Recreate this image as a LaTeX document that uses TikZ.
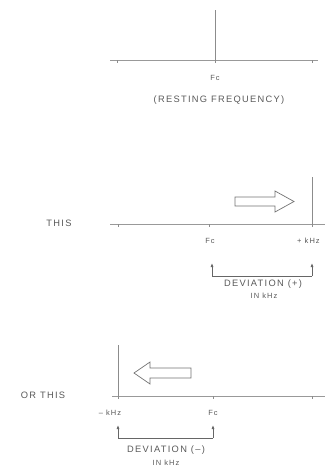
\documentclass[tikz,border=0pt]{standalone}
\usepackage{fontspec}
\usetikzlibrary{arrows.meta}
\setmainfont{Liberation Sans}[LetterSpace=14]
\begin{document}
\begin{tikzpicture}[x=1pt,y=-1pt,
  axis/.style={draw=black!40, line width=0.8pt},
  marker/.style={draw=black!45, line width=0.7pt},
  tick/.style={draw=black!45, line width=0.6pt},
  lbl/.style={text=black!65, font=\fontsize{9.3}{10}\selectfont, inner sep=0pt},
  small/.style={text=black!65, font=\fontsize{7.5}{8}\selectfont, inner sep=0pt},
  hollow/.style={draw=black!55, line width=0.7pt, fill=white, line join=miter},
  brk/.style={draw=black!60, line width=0.7pt},
  brkarrow/.style={brk, -{Latex[length=4pt,width=3pt]}},
]
\useasboundingbox (0,0) rectangle (325,475);

% ---------- panel 1 ----------
\coordinate (a1l) at (110,60);
\coordinate (a1r) at (318,60);
\draw[axis] (a1l) -- (a1r);
\coordinate (t1a) at (117,60);
\coordinate (t1b) at (215,60);
\coordinate (t1c) at (312,60);
\coordinate (v1top) at (215,10);
\draw[marker] (t1b) -- (v1top);
\foreach \c in {t1a,t1b,t1c} \draw[tick] (\c) -- ++(0,3);
\node[small] (fc1) at (215,78) {Fc};
\node[lbl] (rest) at (219,100) {(RESTING FREQUENCY)};

% ---------- panel 2 ----------
\node[lbl] (this) at (59,223) {THIS};
\coordinate (a2l) at (110,224);
\coordinate (a2r) at (325,224);
\draw[axis] (a2l) -- (a2r);
\coordinate (t2a) at (118,224);
\coordinate (t2b) at (209,224);
\coordinate (t2c) at (312,224);
\coordinate (v2top) at (312,177);
\draw[marker] (t2c) -- (v2top);
\foreach \c in {t2a,t2b,t2c} \draw[tick] (\c) -- ++(0,3);
\node[small] (fc2) at (210,241) {Fc};
\node[small, anchor=west] (pk) at (297,241) {+ kHz};
\draw[hollow] (235,197) -- (275,197) -- (275,191) -- (294,201.5) -- (275,212) -- (275,206) -- (235,206) -- cycle;
\coordinate (b2l) at (212,276);
\coordinate (b2r) at (312,276);
\draw[brk] (b2l) -- (b2r);
\draw[brkarrow] (b2l) -- (212,263);
\draw[brkarrow] (b2r) -- (312,263);
\node[lbl] (dev2) at (263,284) {DEVIATION (+)};
\node[small] (in2) at (264,296) {IN kHz};

% ---------- panel 3 ----------
\node[lbl] (orthis) at (43,395) {OR THIS};
\coordinate (a3l) at (112,396);
\coordinate (a3r) at (325,396);
\draw[axis] (a3l) -- (a3r);
\coordinate (t3a) at (118,396);
\coordinate (t3b) at (213,396);
\coordinate (t3c) at (312,396);
\coordinate (v3top) at (118,345);
\draw[marker] (t3a) -- (v3top);
\foreach \c in {t3a,t3b,t3c} \draw[tick] (\c) -- ++(0,3);
\node[small] (mk) at (110,413) {-- kHz};
\node[small] (fc3) at (213,413) {Fc};
\draw[hollow] (191,368) -- (150,368) -- (150,362) -- (134,373) -- (150,384) -- (150,378) -- (191,378) -- cycle;
\coordinate (b3l) at (118,438);
\coordinate (b3r) at (213,438);
\draw[brk] (b3l) -- (b3r);
\draw[brkarrow] (b3l) -- (118,425);
\draw[brkarrow] (b3r) -- (213,425);
\node[lbl] (dev3) at (166,450) {DEVIATION (--)};
\node[small] (in3) at (166,463) {IN kHz};
\end{tikzpicture}
\end{document}
